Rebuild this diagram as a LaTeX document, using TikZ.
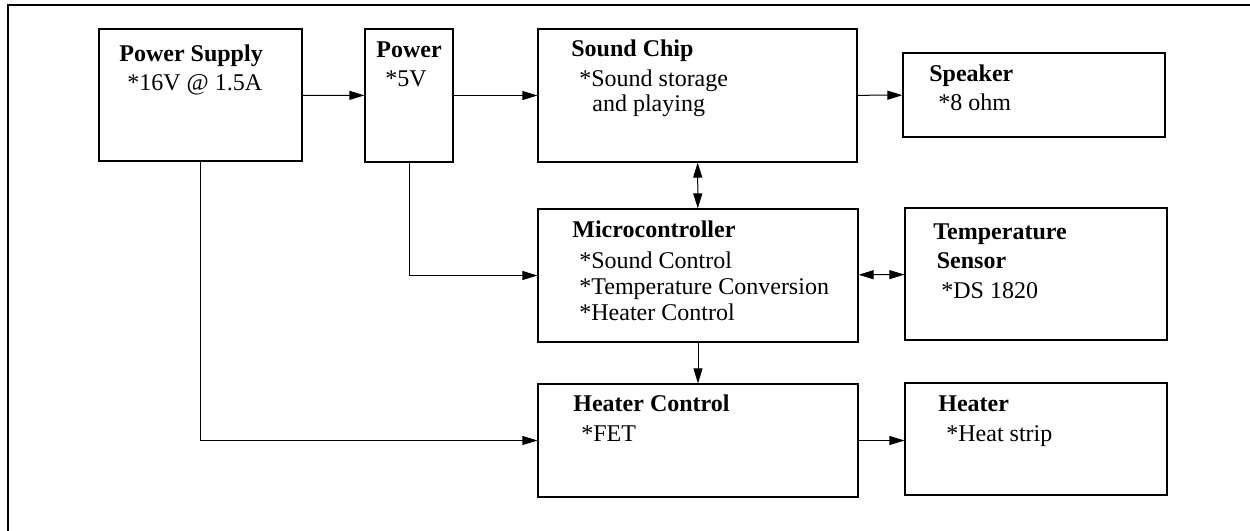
\documentclass[tikz,border=0pt]{standalone}
\usepackage{fontspec}
\setmainfont{Liberation Serif}
\usetikzlibrary{arrows.meta,positioning,fit}
\tikzset{
  blk/.style={draw,line width=0.6pt,inner sep=0pt},
  txt/.style={inner sep=0pt,anchor=base west,align=left,
    font=\fontsize{12pt}{13pt}\selectfont},
  conn/.style={line width=0.5pt,-{Triangle[length=7.5pt,width=4.5pt]}},
  biconn/.style={line width=0.5pt,{Triangle[length=7.5pt,width=4.5pt]}-{Triangle[length=7.5pt,width=4.5pt]}}
}
\newcommand{\ttl}[1]{\textbf{#1}}
\begin{document}
\begin{tikzpicture}[x=0.5pt,y=-0.5pt]
        \useasboundingbox (0,0) rectangle (1250,531);
        % outer frame, open at right and bottom
        \draw[line width=1pt] (8,531) -- (8,5) -- (1250,5);
        % blocks
        \node[blk,fit={(99,29) (302,161)}]   (ps)    {};
        \node[blk,fit={(365,29) (453,162)}]  (pwr)   {};
        \node[blk,fit={(538,29) (857,162)}]  (snd)   {};
        \node[blk,fit={(903,53) (1165,137)}] (spk)   {};
        \node[blk,fit={(538,209) (858,342)}] (mcu)   {};
        \node[blk,fit={(905,208) (1167,340)}] (tmp)  {};
        \node[blk,fit={(538,384) (858,497)}] (hctl)  {};
        \node[blk,fit={(905,383) (1167,495)}] (htr)  {};
        % block texts (placed at the baseline of their last line)
        \node[txt] (pstxt) at (119,90) {\ttl{Power Supply}\\[1.5pt]\hspace*{4pt}*16V @ 1.5A};
        \node[txt] (pwrtxt) at (376,86.7) {\ttl{Power}\\[1.5pt]\hspace*{4.5pt}*5V};
        \node[txt] (sndtxt) at (571,111) {\ttl{Sound Chip}\\[2pt]\hspace*{4pt}*Sound storage\\[-0.5pt]\hspace*{10.5pt}and playing};
        \node[txt] (spktxt) at (929,110) {\ttl{Speaker}\\[1.5pt]\hspace*{4.5pt}*8 ohm};
        \node[txt] (mcutxt) at (572,320) {\ttl{Microcontroller}\\[2.5pt]\hspace*{3.5pt}*Sound Control\\\hspace*{3.5pt}*Temperature Conversion\\\hspace*{3.5pt}*Heater Control};
        \node[txt] (tmptxt) at (933,298) {\ttl{Temperature}\\[1.5pt]\hspace*{1.75pt}\ttl{Sensor}\\[2pt]\hspace*{4pt}*DS 1820};
        \node[txt] (hctltxt) at (573,441.5) {\ttl{Heater Control}\\[2pt]\hspace*{4pt}*FET};
        \node[txt] (htrtxt) at (938,441) {\ttl{Heater}\\[2pt]\hspace*{4pt}*Heat strip};
        % connections
        \draw[conn] (ps) -- (pwr);
        \draw[conn] (pwr) -- (snd);
        \draw[conn] (snd) -- (spk);
        \draw[biconn] (snd) -- (mcu);
        \draw[biconn] (mcu) -- (tmp);
        \draw[conn] (mcu) -- (hctl);
        \draw[conn] (hctl.east) -- (htr.west|-hctl.east);
        \draw[conn] (pwr.south) |- (mcu.west);
        \draw[conn] (ps.south) |- (hctl.west);
      \end{tikzpicture}
\end{document}
